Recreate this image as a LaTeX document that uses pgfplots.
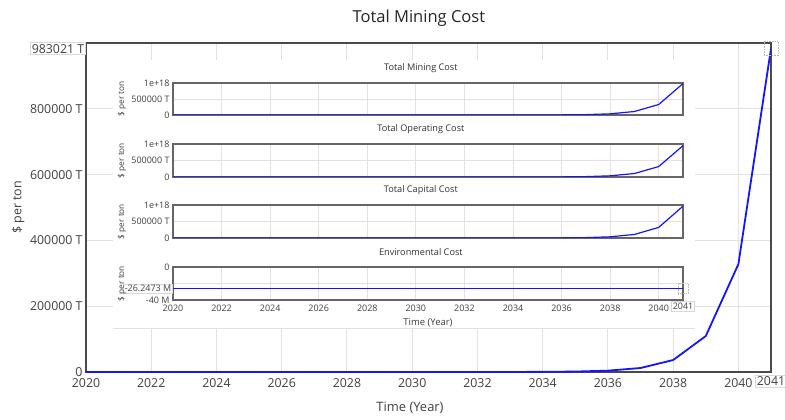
\documentclass[border=0pt]{standalone}
\usepackage{pgfplots}
\usepackage{pgfplotstable}
\pgfplotsset{compat=1.18}
\usepackage{fontspec}
\setmainfont{Open Sans}

\definecolor{txt}{HTML}{404040}
\definecolor{gridc}{HTML}{E2E2E2}
\definecolor{framec}{HTML}{4A4A4A}
\definecolor{insetframe}{HTML}{666666}
\definecolor{lineblue}{HTML}{1414FF}
\definecolor{boxc}{HTML}{D8D8D8}

% yearly cost series ($ per ton)
\pgfplotstableread{
year mining operating capital
2020 0 0 0
2021 0 0 0
2022 0 0 0
2023 0 0 0
2024 0 0 0
2025 0 0 0
2026 0 0 0
2027 0 0 0
2028 1 1 1
2029 2 2 2
2030 6 6 6
2031 17 16 17
2032 50 48 49
2033 150 145 147
2034 449 434 441
2035 1348 1303 1323
2036 4045 3910 3970
2037 12136 11730 11910
2038 36408 35190 35740
2039 109225 105570 107220
2040 327674 316700 321650
2041 983021 950100 965000
}\costs

\pgfplotstableread{
year env
2020 -26247300
2041 -26247300
}\envcost

\tikzset{boxlabel/.style={draw=boxc, fill=white, inner sep=1.5pt, line width=0.6bp}}

\pgfplotsset{
  scaled ticks=false,
  inset/.style={
    scale only axis, width=510bp,
    xmin=2020, xmax=2041,
    axis line style={insetframe, line width=1.3bp},
    tick style={draw=none},
    grid=major, major grid style={gridc, line width=0.8bp},
    xtick={2020,2022,...,2040}, xticklabels={},
    ticklabel style={font=\fontsize{9}{10}\selectfont, text=txt},
    xticklabel style={yshift=-1bp},
    title style={font=\fontsize{9.2}{11}\selectfont, text=black!80,
      at={(axis description cs:0.486,1)}, anchor=center, yshift=9bp},
    ylabel style={font=\fontsize{8.3}{10}\selectfont, text=txt,
      at={(axis description cs:-0.1,0.5)}, anchor=center},
    ylabel={\$ per ton},
  },
  costinset/.style={inset,
    ymin=0, ymax=1000000,
    ytick={0,500000,1000000},
    yticklabels={0,500000 T,1e+18},
  },
}

\begin{document}
\begin{tikzpicture}
\path[use as bounding box] (0,0) rectangle (785bp,420bp);

% main chart
\begin{axis}[
  scale only axis, width=685bp, height=329bp,
  at={(86bp,48bp)}, anchor=south west,
  xmin=2020, xmax=2041, ymin=0, ymax=1000000,
  xtick={2020,2022,...,2040},
  xticklabels={2020,2022,2024,2026,2028,2030,2032,2034,2036,2038,2040},
  ytick={0,200000,400000,600000,800000},
  yticklabels={0,200000 T,400000 T,600000 T,800000 T},
  extra x ticks={2041}, extra x tick labels={2041},
  extra x tick style={grid=none, xticklabel style={boxlabel}},
  extra y ticks={983021}, extra y tick labels={983021 T},
  extra y tick style={grid=none, yticklabel style={boxlabel}},
  grid=major, major grid style={gridc, line width=1bp},
  axis line style={framec, line width=1.3bp},
  tick style={draw=none},
  ticklabel style={font=\fontsize{12.4}{14}\selectfont, text=txt},
  xticklabel style={yshift=-3bp},
  title={Total Mining Cost},
  title style={font=\fontsize{16.6}{19}\selectfont, text=black!85,
    at={(axis description cs:0.486,1.076)}, anchor=center, yshift=-6pt},
  xlabel={Time (Year)},
  xlabel style={font=\fontsize{13}{15}\selectfont, text=txt,
    at={(axis description cs:0.473,-0.109)}, anchor=center},
  ylabel={\$ per ton},
  ylabel style={font=\fontsize{12.5}{14}\selectfont, text=txt,
    at={(axis description cs:-0.099,0.50)}, anchor=center},
]
\addplot[lineblue, line width=1.8bp] table[x=year, y=mining] {\costs};
\addplot[only marks, mark=square, mark size=7bp,
  mark options={gray!55, densely dotted, line width=0.6bp}]
  coordinates {(2041,983021)};
\end{axis}

% panel of breakdown charts
\fill[white] (113bp,92bp) rectangle (695bp,360bp);
\draw[gridc, line width=0.8bp] (113bp,92bp) -- (695bp,92bp);

\begin{axis}[costinset, height=32bp, at={(173bp,305bp)}, anchor=south west,
  title={Total Mining Cost}]
\addplot[lineblue, line width=1.2bp] table[x=year, y=mining] {\costs};
\end{axis}

\begin{axis}[costinset, height=33bp, at={(173bp,243bp)}, anchor=south west,
  title={Total Operating Cost}]
\addplot[lineblue, line width=1.2bp] table[x=year, y=operating] {\costs};
\end{axis}

\begin{axis}[costinset, height=33bp, at={(173bp,182bp)}, anchor=south west,
  title={Total Capital Cost}]
\addplot[lineblue, line width=1.2bp] table[x=year, y=capital] {\costs};
\end{axis}

\begin{axis}[inset, height=33bp, at={(173bp,120bp)}, anchor=south west,
  title={Environmental Cost},
  ymin=-40000000, ymax=0,
  ytick={-40000000,-20000000,0},
  yticklabels={-40 M,,0},
  extra y ticks={-26247300}, extra y tick labels={-26.2473 M},
  extra y tick style={grid=none, yticklabel style={boxlabel}},
  xticklabels={2020,2022,2024,2026,2028,2030,2032,2034,2036,2038,2040},
  extra x ticks={2041}, extra x tick labels={2041},
  extra x tick style={grid=none, xticklabel style={boxlabel}},
  xlabel={Time (Year)},
  xlabel style={font=\fontsize{9.5}{11}\selectfont, text=txt,
    at={(axis description cs:0.5,-0.7)}, anchor=center},
]
\addplot[lineblue, line width=1.2bp] table[x=year, y=env] {\envcost};
\addplot[only marks, mark=square, mark size=5bp,
  mark options={gray!55, densely dotted, line width=0.6bp}]
  coordinates {(2041,-26247300)};
\end{axis}
\end{tikzpicture}
\end{document}
